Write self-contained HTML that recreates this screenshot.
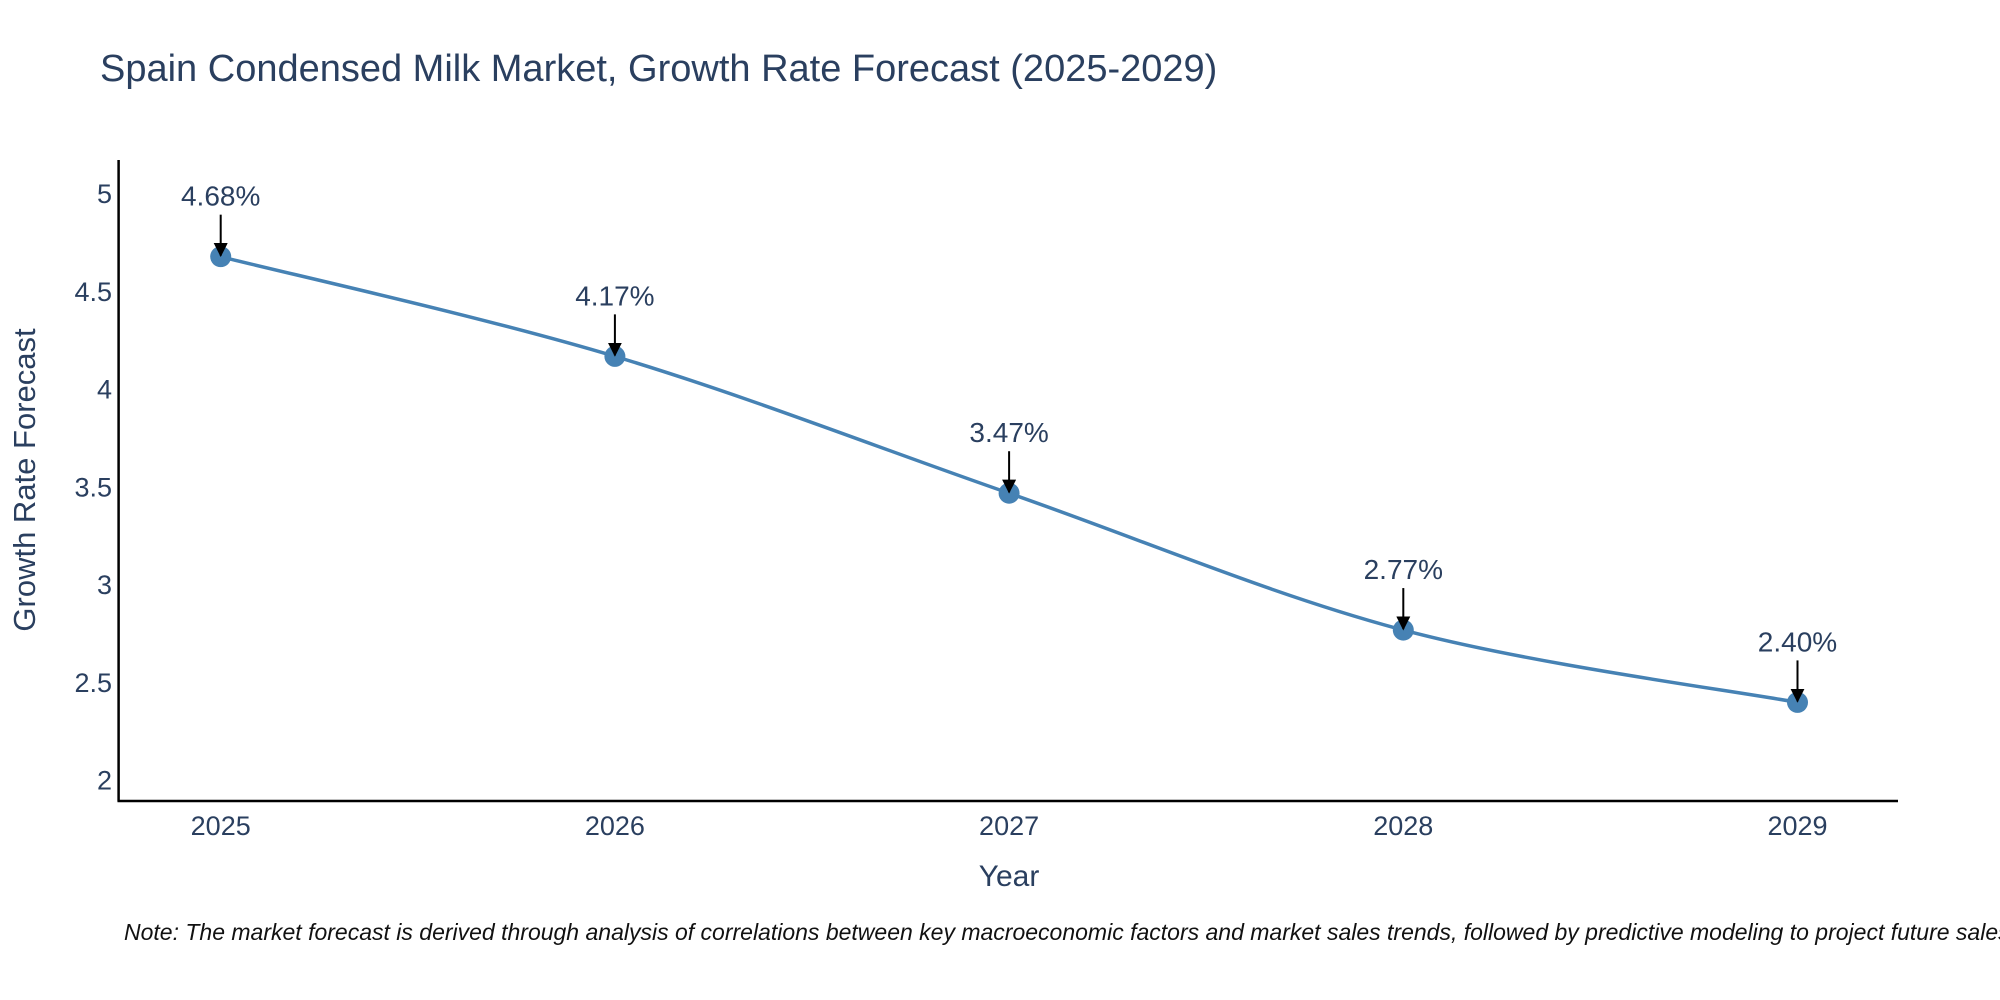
<!DOCTYPE html>
<html><head><meta charset="utf-8"><style>
body{margin:0;background:#fff;overflow:hidden;}
svg{display:block;font-family:"Liberation Sans",sans-serif;}
</style></head><body>
<svg width="2000" height="1000" viewBox="0 0 2000 1000" xmlns="http://www.w3.org/2000/svg">
<rect width="2000" height="1000" fill="#fff"/>
<text x="100" y="81" font-size="38" fill="#2a3f5f">Spain Condensed Milk Market, Growth Rate Forecast (2025-2029)</text>
<g id="axes"></g>
<g id="plot"></g>
<text x="1009" y="886" font-size="30" fill="#2a3f5f" text-anchor="middle">Year</text>
<text transform="translate(35,480) rotate(-90)" font-size="31" fill="#2a3f5f" text-anchor="middle">Growth Rate Forecast</text>
<text x="124" y="940" font-size="23" font-style="italic" fill="#111">Note: The market forecast is derived through analysis of correlations between key macroeconomic factors and market sales trends, followed by predictive modeling to project future sales.</text>
</svg>
<script>
const years = [2025, 2026, 2027, 2028, 2029];
const growth = [4.68, 4.17, 3.47, 2.77, 2.40];
const labels = ["4.68%", "4.17%", "3.47%", "2.77%", "2.40%"];
const yTicks = [2, 2.5, 3, 3.5, 4, 4.5, 5];
const yTickLabels = ["2", "2.5", "3", "3.5", "4", "4.5", "5"];

const NS = "http://www.w3.org/2000/svg";
const X = v => 220.7 + (v - 2025) * 394.2;
const Y = v => 780.6 - (v - 2) * 195.5;
function mk(tag, attrs, parent, text) {
  const e = document.createElementNS(NS, tag);
  for (const k in attrs) e.setAttribute(k, attrs[k]);
  if (text !== undefined) e.textContent = text;
  parent.appendChild(e);
  return e;
}
const axes = document.getElementById('axes');
const plot = document.getElementById('plot');
const defs = mk('defs', {}, axes);
const mkr = mk('marker', {id: 'arr', viewBox: '0 0 10 10', refX: '9', refY: '5', markerWidth: '7', markerHeight: '7', markerUnits: 'userSpaceOnUse', orient: 'auto'}, defs);
mkr.setAttribute('markerWidth', '14');
mkr.setAttribute('markerHeight', '14');
mk('path', {d: 'M0,0 L10,5 L0,10 z', fill: '#000'}, mkr);

const yl = mk('line', {x1: 118.6, y1: 160, x2: 118.6, y2: 801.5, stroke: '#000', 'stroke-width': 2.5}, axes);


const xl = mk('line', {x1: 117.5, y1: 801, x2: 1898, y2: 801, stroke: '#000', 'stroke-width': 2.5}, axes);



yTicks.forEach((t, i) => {
  const e = mk('text', {x: 112, y: Y(t) + 9, 'font-size': 27, fill: '#2a3f5f', 'text-anchor': 'end'}, axes, yTickLabels[i]);
  
  
});
years.forEach(yr => {
  const e = mk('text', {x: X(yr), y: 835, 'font-size': 27, fill: '#2a3f5f', 'text-anchor': 'middle'}, axes, String(yr));
  
  
});

const pts = years.map((yr, i) => [X(yr), Y(growth[i])]);
let d = `M${pts[0][0]},${pts[0][1]}`;
const s = 1 / 6;
for (let i = 0; i < pts.length - 1; i++) {
  const p0 = pts[Math.max(i - 1, 0)], p1 = pts[i], p2 = pts[i + 1], p3 = pts[Math.min(i + 2, pts.length - 1)];
  const c1 = [p1[0] + (p2[0] - p0[0]) * s, p1[1] + (p2[1] - p0[1]) * s];
  const c2 = [p2[0] - (p3[0] - p1[0]) * s, p2[1] - (p3[1] - p1[1]) * s];
  d += ` C${c1[0]},${c1[1]} ${c2[0]},${c2[1]} ${p2[0]},${p2[1]}`;
}
const line = mk('path', {d: d, fill: 'none', stroke: '#4682B4', 'stroke-width': 3.5}, plot);



pts.forEach((p, i) => {
  const c = mk('circle', {cx: p[0], cy: p[1], r: 10.5, fill: '#4682B4'}, plot);
  
  
  const a = mk('line', {x1: p[0], y1: p[1] - 42, x2: p[0], y2: p[1] - 1, stroke: '#000', 'stroke-width': 2, 'marker-end': 'url(#arr)'}, plot);
  
  
  const t = mk('text', {x: p[0], y: p[1] - 51, 'font-size': 28, fill: '#2a3f5f', 'text-anchor': 'middle'}, plot, labels[i]);
  
  
});
</script>
</body></html>
